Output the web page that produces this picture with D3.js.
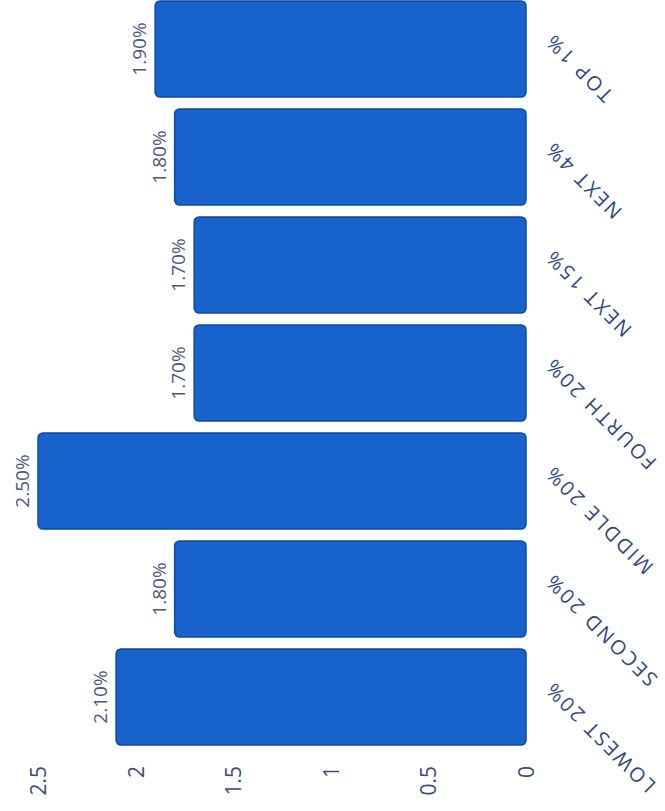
<!DOCTYPE html>
<html>
<head>
<meta charset="utf-8">
<script src="https://cdn.jsdelivr.net/npm/d3@7"></script>
<style>
  html, body { margin: 0; padding: 0; background: #fff; }
  svg { display: block; }
</style>
</head>
<body>
<script>
const categories = ["LOWEST 20%", "SECOND 20%", "MIDDLE 20%", "FOURTH 20%", "NEXT 15%", "NEXT 4%", "TOP 1%"];
const values = [2.1, 1.8, 2.5, 1.7, 1.7, 1.8, 1.9];
const valueLabels = ["2.10%", "1.80%", "2.50%", "1.70%", "1.70%", "1.80%", "1.90%"];
const tickValues = [0, 0.5, 1, 1.5, 2, 2.5];

const W = 665, H = 811;
const svg = d3.select("body").append("svg").attr("width", W).attr("height", H);

const x = d3.scaleLinear().domain([0, 2.5]).range([526, 38]);
const y = d3.scaleBand().domain(categories).range([751, -5]).paddingInner(0.11).paddingOuter(0.055);

const data = categories.map((c, i) => ({ c, v: values[i], l: valueLabels[i] }));

svg.append("g").selectAll("rect").data(data).join("rect")
  .attr("x", d => x(d.v))
  .attr("y", d => y(d.c))
  .attr("width", d => x(0) - x(d.v))
  .attr("height", y.bandwidth())
  .attr("rx", 5)
  .attr("fill", "#1862cc")
  .attr("stroke", "#0c4aa6")
  .attr("stroke-width", 1.5);

// value labels
svg.append("g").selectAll("text").data(data).join("text")
  .attr("transform", d => `translate(${x(d.v) - 16},${y(d.c) + y.bandwidth() / 2}) rotate(-90)`)
  .attr("text-anchor", "middle")
  .attr("dominant-baseline", "central")
  .attr("font-family", "Open Sans, sans-serif")
  .attr("font-size", 19)
  .attr("fill", "#4a5683")
  .text(d => d.l);

// value axis tick labels
svg.append("g").selectAll("text").data(tickValues).join("text")
  .attr("transform", t => `translate(${x(t)},766) rotate(-90)`)
  .attr("text-anchor", "end")
  .attr("dominant-baseline", "central")
  .attr("font-family", "Open Sans, sans-serif")
  .attr("font-size", 21)
  .attr("fill", "#3b4c7c")
  .text(t => d3.format("")(t));

// category labels
svg.append("g").selectAll("text").data(categories).join("text")
  .attr("transform", c => `translate(548,${y(c) + y.bandwidth() / 2 - 12}) rotate(-135)`)
  .attr("text-anchor", "end")
  .attr("dy", "0.35em")
  .attr("letter-spacing", 2.5)
  .attr("font-family", "Open Sans, sans-serif")
  .attr("font-size", 20)
  .attr("fill", "#2f4782")
  .text(c => c);
</script>
</body>
</html>
